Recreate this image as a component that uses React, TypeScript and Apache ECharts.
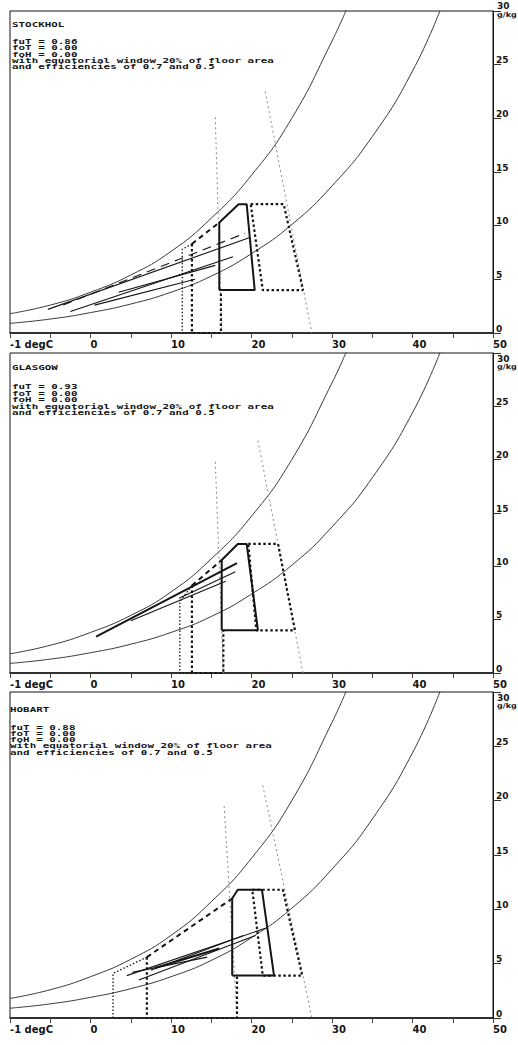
import React, { useEffect, useRef } from "react";
import * as echarts from "echarts";

type P = [number, number];

// ---------- axis ticks / labels ----------
const xTickValues = [-10, 0, 10, 20, 30, 40, 50];
const xTickLabels = ["-1 degC", "0", "10", "20", "30", "40", "50"];
const yTopLabel = "30";
const yUnit = "g/kg";

// ---------- panel texts ----------
const cityNames = ["STOCKHOL", "GLASGOW", "HOBART"];
const fuTValues = ["0.86", "0.93", "0.88"];
const foTValues = ["0.00", "0.00", "0.00"];
const foHValues = ["0.00", "0.00", "0.00"];
const noteLines = ["with equatorial window 20% of floor area", "and efficiencies of 0.7 and 0.5"];

// ---------- humidity curves ----------
const satTemps = [-10, -5, 0, 5, 10, 15, 20, 25, 30, 32];
const satW = [1.8, 2.6, 3.8, 5.4, 7.6, 10.7, 14.7, 20.0, 27.2, 30.5];
const halfTemps = [-10, -5, 0, 5, 10, 15, 20, 25, 30, 35, 40, 43.5];
const halfW = [0.9, 1.3, 1.9, 2.7, 3.8, 5.3, 7.4, 10.1, 13.7, 18.3, 24.4, 30.2];

// ---------- Stockholm ----------
const stoComfort: P[] = [[16.0, 4.0], [16.0, 10.3], [18.4, 12.0], [19.4, 12.0], [20.4, 4.0], [16.0, 4.0]];
const stoVent: P[] = [[19.9, 12.0], [24.0, 12.0], [26.4, 4.0], [21.4, 4.0], [19.9, 12.0]];
const stoMassTop: P[] = [[12.6, 8.3], [16.0, 10.3]];
const stoMassSide: P[] = [[12.6, 8.3], [12.6, 0], [16.2, 0], [16.2, 4.0]];
const stoSolar: P[] = [[12.6, 8.3], [11.4, 7.8], [11.4, 0], [12.6, 0]];
const stoLimitA: P[] = [[15.5, 20.1], [16.3, 0]];
const stoLimitB: P[] = [[21.7, 22.5], [27.5, 0]];
const stoMonthsSolid: P[][] = [
  [[-5.3, 2.2], [19.8, 8.9]],
  [[-2.5, 2.0], [17.7, 7.1]],
  [[3.5, 3.8], [15.5, 6.3]],
  [[0.5, 2.6], [13.0, 5.0]],
];
const stoMonthsDashed: P[][] = [[[-3.4, 2.6], [19.2, 9.3]]];

// ---------- Glasgow ----------
const glaComfort: P[] = [[16.3, 4.0], [16.3, 10.6], [18.3, 12.1], [19.4, 12.1], [20.8, 4.0], [16.3, 4.0]];
const glaVent: P[] = [[19.6, 12.1], [23.3, 12.1], [25.4, 4.0], [20.6, 4.0], [19.6, 12.1]];
const glaMassTop: P[] = [[12.6, 8.2], [16.3, 10.6]];
const glaMassSide: P[] = [[12.6, 8.2], [12.6, 0], [16.5, 0], [16.5, 4.0]];
const glaSolar: P[] = [[12.6, 8.2], [11.1, 6.7], [11.1, 0], [12.6, 0]];
const glaLimitA: P[] = [[15.5, 19.8], [16.5, 0]];
const glaLimitB: P[] = [[20.8, 21.8], [26.4, 0]];
const glaMonthsSolid: P[][] = [
  [[5.0, 4.9], [16.8, 8.6]],
  [[11.0, 7.0], [18.0, 9.5]],
];
const glaMonthsThick: P[][] = [[[0.7, 3.4], [18.2, 10.3]]];

// ---------- Hobart ----------
const hobComfort: P[] = [[17.6, 3.9], [17.6, 11.0], [18.3, 11.8], [21.3, 11.8], [22.8, 3.9], [17.6, 3.9]];
const hobVent: P[] = [[20.1, 11.8], [23.9, 11.8], [26.3, 3.9], [21.4, 3.9], [20.1, 11.8]];
const hobMassTop: P[] = [[7.0, 5.6], [17.6, 11.0]];
const hobMassSide: P[] = [[7.0, 5.6], [7.0, 0], [18.2, 0], [18.2, 3.9]];
const hobSolar: P[] = [[7.0, 5.6], [2.8, 4.1], [2.8, 0], [7.0, 0]];
const hobLimitA: P[] = [[16.6, 19.5], [18.2, 0]];
const hobLimitB: P[] = [[21.4, 21.4], [27.5, 0]];
const hobMonthsSolid: P[][] = [
  [[4.5, 3.9], [21.9, 8.3]],
  [[6.0, 3.5], [20.5, 7.6]],
  [[7.5, 4.4], [19.0, 7.6]],
  [[5.2, 4.2], [14.5, 5.6]],
];
const hobMonthsThick: P[][] = [[[8.0, 4.6], [16.0, 6.4]]];

// ---------- layout (not data) ----------
const PAGE_W = 518;
const PAGE_H = 1045;
const GRID_LEFT = 10;
const GRID_W = 483;
const panelTops = [11, 353, 692];
const panelHeights = [322, 320, 326];
const titleYs = [25, 368, 710];
const firstLineYs = [42, 387, 728];
const lineSteps = [6.2, 6.5, 6.1];
const textXs = [12, 12, 10];
const topLabelYs = [6, 359, 698];
const unitYs = [15, 367, 706];

const INK = "#151515";
const CURVE = "#3a3a3a";
const GREY = "#8a8a8a";

function seg(data: P[], panel: number, width: number, type: any, color: string, z = 3, smooth = false) {
  return {
    type: "line",
    xAxisIndex: panel,
    yAxisIndex: panel,
    data,
    showSymbol: false,
    symbol: "none",
    smooth,
    silent: true,
    clip: true,
    z,
    lineStyle: { width, type, color, cap: "butt" },
  };
}

export default function App() {
  const ref = useRef<HTMLDivElement>(null);

  useEffect(() => {
    if (!ref.current) return;
    const chart = echarts.init(ref.current, null, { renderer: "svg" });

    const satCurve: P[] = satTemps.map((t, i) => [t, satW[i]]);
    const halfCurve: P[] = halfTemps.map((t, i) => [t, halfW[i]]);

    const panelData = [
      {
        comfort: stoComfort, vent: stoVent, massTop: stoMassTop, massSide: stoMassSide, solar: stoSolar,
        limitA: stoLimitA, limitB: stoLimitB, solid: stoMonthsSolid, dashed: stoMonthsDashed, thick: [] as P[][],
      },
      {
        comfort: glaComfort, vent: glaVent, massTop: glaMassTop, massSide: glaMassSide, solar: glaSolar,
        limitA: glaLimitA, limitB: glaLimitB, solid: glaMonthsSolid, dashed: [] as P[][], thick: glaMonthsThick,
      },
      {
        comfort: hobComfort, vent: hobVent, massTop: hobMassTop, massSide: hobMassSide, solar: hobSolar,
        limitA: hobLimitA, limitB: hobLimitB, solid: hobMonthsSolid, dashed: [] as P[][], thick: hobMonthsThick,
      },
    ];

    const grids: any[] = [];
    const xAxes: any[] = [];
    const yAxes: any[] = [];
    const series: any[] = [];
    const graphics: any[] = [];

    const smallSans = {
      fill: INK,
      fontSize: 9,
      fontWeight: "bold",
      fontFamily: "DejaVu Sans",
      align: "left",
      verticalAlign: "middle",
    };

    panelData.forEach((pd, i) => {
      grids.push({
        left: GRID_LEFT,
        top: panelTops[i],
        width: GRID_W,
        height: panelHeights[i],
        show: true,
        borderColor: INK,
        borderWidth: 1,
        backgroundColor: "transparent",
      });
      xAxes.push({
        gridIndex: i,
        type: "value",
        min: -10,
        max: 50,
        interval: 5,
        axisLine: { show: true, onZero: false, lineStyle: { color: INK, width: 1.5 } },
        axisTick: { show: true, inside: false, length: 5, lineStyle: { color: "#444", width: 1 } },
        axisLabel: {
          show: true,
          showMinLabel: true,
          showMaxLabel: true,
          align: "left",
          margin: 6,
          fontSize: 10,
          fontWeight: "bold",
          fontFamily: "DejaVu Sans",
          color: INK,
          formatter: (v: number) => {
            const k = xTickValues.indexOf(v);
            return k >= 0 ? xTickLabels[k] : "";
          },
        },
        splitLine: { show: false },
      });
      yAxes.push({
        gridIndex: i,
        type: "value",
        position: "right",
        min: 0,
        max: 30,
        interval: 5,
        axisLine: { show: true, onZero: false, lineStyle: { color: INK, width: 1 } },
        axisTick: { show: true, inside: false, length: 8, lineStyle: { color: "#333", width: 1 } },
        axisLabel: {
          show: true,
          showMaxLabel: true,
          margin: 3,
          verticalAlign: "bottom",
          fontSize: 9,
          fontWeight: "bold",
          fontFamily: "DejaVu Sans",
          color: INK,
          formatter: (v: number) => (String(v) === yTopLabel ? "" : String(v)),
        },
        splitLine: { show: false },
      });

      // humidity curves
      series.push(seg(satCurve, i, 1, "solid", CURVE, 2, true));
      series.push(seg(halfCurve, i, 1, "solid", CURVE, 2, true));
      // limit lines
      series.push(seg(pd.limitA, i, 1, [2, 3], GREY, 2));
      series.push(seg(pd.limitB, i, 1, [2, 3], GREY, 2));
      // zones
      series.push(seg(pd.comfort, i, 2, "solid", INK, 4));
      series.push(seg(pd.vent, i, 2.2, [2.5, 2.5], INK, 4));
      series.push(seg(pd.massTop, i, 2, [5, 4], INK, 4));
      series.push(seg(pd.massSide, i, 2.2, [2.5, 2.5], INK, 4));
      series.push(seg(pd.solar, i, 1.3, [1.5, 2], INK, 3));
      // monthly climate lines
      pd.solid.forEach((m) => series.push(seg(m, i, 1.1, "solid", INK, 3)));
      pd.dashed.forEach((m) => series.push(seg(m, i, 1.1, [9, 6], INK, 3)));
      pd.thick.forEach((m) => series.push(seg(m, i, 2, "solid", INK, 3)));

      // texts
      const lines = [
        `fuT = ${fuTValues[i]}`,
        `foT = ${foTValues[i]}`,
        `foH = ${foHValues[i]}`,
        noteLines[0],
        noteLines[1],
      ];
      const monoStyle = {
        fill: INK,
        fontSize: 8,
        fontWeight: "bold",
        fontFamily: "DejaVu Sans Mono",
        align: "left",
        verticalAlign: "middle",
      };
      graphics.push({
        type: "text",
        x: textXs[i],
        y: titleYs[i],
        scaleX: 1.36,
        scaleY: 0.78,
        silent: true,
        style: { ...monoStyle, text: cityNames[i] },
      });
      lines.forEach((t, k) => {
        graphics.push({
          type: "text",
          x: textXs[i],
          y: firstLineYs[i] + k * lineSteps[i],
          scaleX: 1.36,
          scaleY: 0.78,
          silent: true,
          style: { ...monoStyle, text: t },
        });
      });
      graphics.push({
        type: "text",
        x: GRID_LEFT + GRID_W + 4,
        y: topLabelYs[i],
        silent: true,
        style: { ...smallSans, text: yTopLabel },
      });
      graphics.push({
        type: "text",
        x: GRID_LEFT + GRID_W + 4,
        y: unitYs[i],
        silent: true,
        scaleY: 0.85,
        style: { ...smallSans, fontSize: 8, text: yUnit },
      });
    });

    chart.setOption({
      animation: false,
      backgroundColor: "#ffffff",
      grid: grids,
      xAxis: xAxes,
      yAxis: yAxes,
      series,
      graphic: graphics,
    });

    return () => {
      chart.dispose();
    };
  }, []);

  return (
    <div
      ref={ref}
      style={{ position: "absolute", left: 0, top: 0, width: PAGE_W, height: PAGE_H, background: "#fff" }}
    />
  );
}
